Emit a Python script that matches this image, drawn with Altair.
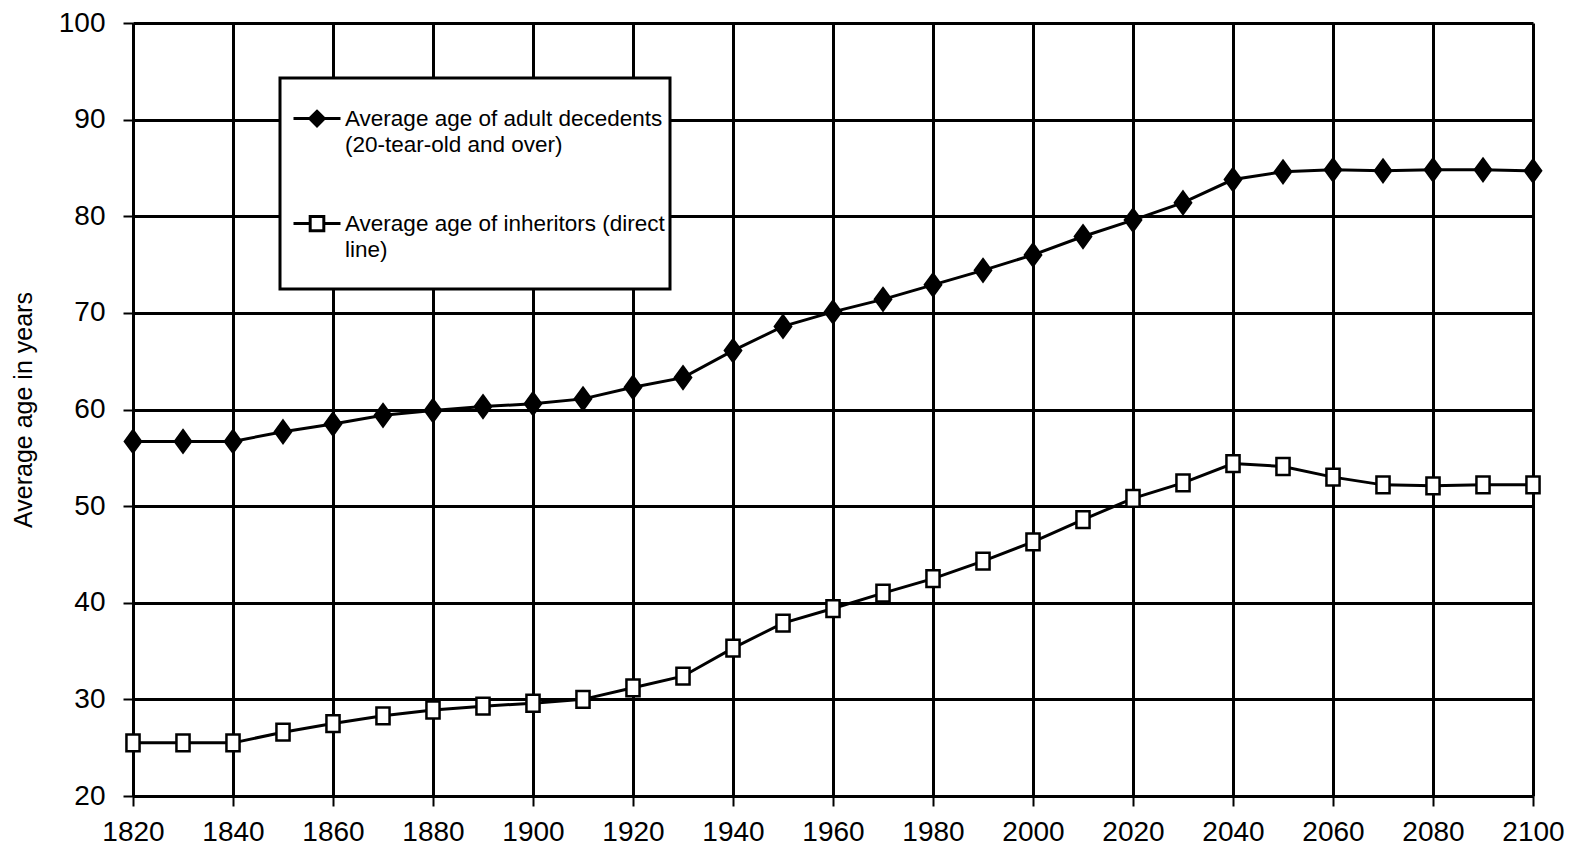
import altair as alt
import pandas as pd

years = list(range(1820, 2101, 10))
decedents = [56.7, 56.7, 56.7, 57.7, 58.5, 59.4, 59.9, 60.3, 60.6, 61.1,
             62.3, 63.3, 66.1, 68.6, 70.1, 71.4, 72.9, 74.4, 76.0, 77.9,
             79.6, 81.4, 83.8, 84.6, 84.8, 84.7, 84.8, 84.8, 84.7]
inheritors = [25.5, 25.5, 25.5, 26.6, 27.5, 28.3, 28.9, 29.3, 29.6, 30.0,
              31.2, 32.4, 35.3, 37.9, 39.4, 41.0, 42.5, 44.3, 46.3, 48.6,
              50.8, 52.4, 54.4, 54.1, 53.0, 52.2, 52.1, 52.2, 52.2]
series_names = ["Average age of adult decedents|(20-tear-old and over)",
                "Average age of inheritors (direct|line)"]
x_ticks = list(range(1820, 2101, 20))
y_ticks = list(range(20, 101, 10))

rows = []
for yr, d, i in zip(years, decedents, inheritors):
    rows.append({"year": yr, "age": d, "series": series_names[0]})
    rows.append({"year": yr, "age": i, "series": series_names[1]})
df = pd.DataFrame(rows)

marker_paths = ["M0,-0.96L0.7,0L0,0.96L-0.7,0Z",
                "M-0.57,-0.73H0.57V0.73H-0.57Z"]
dy = 0.45
legend_paths = [
    f"M-1,{dy}H1M0,{dy-0.31:.2f}L0.31,{dy}L0,{dy+0.31:.2f}L-0.31,{dy}Z",
    f"M-1,{dy}H-0.29M0.29,{dy}H1M-0.29,{dy-0.3:.2f}H0.29V{dy+0.3:.2f}H-0.29Z",
]
fills = ["black", "white"]
strokes = ["black", "black"]

x_enc = alt.X("year:Q", scale=alt.Scale(domain=[1820, 2100], nice=False, zero=False),
              axis=alt.Axis(values=x_ticks, format="d", title=None, labelPadding=12,
                            labelFlush=False))
y_enc = alt.Y("age:Q", scale=alt.Scale(domain=[20, 100], nice=False, zero=False),
              axis=alt.Axis(values=y_ticks, title="Average age in years",
                            titleFontSize=25, titleFontWeight="normal",
                            titleFont="Liberation Sans", titlePadding=22,
                            labelPadding=18, labelFlush=False))

base = alt.Chart(df)

lines = base.mark_line(color="black", strokeWidth=3).encode(
    x=x_enc, y=y_enc, detail="series:N")

points = base.mark_point(filled=True, stroke="black", strokeWidth=2.5,
                         size=529, opacity=1).encode(
    x=x_enc, y=y_enc,
    shape=alt.Shape("series:N", scale=alt.Scale(domain=series_names, range=marker_paths), legend=None),
    fill=alt.Fill("series:N", scale=alt.Scale(domain=series_names, range=fills), legend=None),
)

leg = alt.Legend(title=" ", titleOrient="bottom", titleFontSize=10, titlePadding=12,
                 orient="none", legendX=147, legendY=55,
                 labelExpr="split(datum.label, '|')", labelBaseline="top",
                 labelFontSize=22.5, labelFont="Liberation Sans", labelColor="black",
                 labelLimit=1000, labelOffset=3, symbolSize=2209, symbolOffset=7,
                 symbolStrokeWidth=3, symbolStrokeColor="black", symbolOpacity=1,
                 rowPadding=31, padding=5, fillColor="white", strokeColor="black")

legend_layer = base.mark_point(filled=True, opacity=0, size=2209,
                               strokeWidth=3).encode(
    x=x_enc, y=y_enc,
    shape=alt.Shape("series:N", scale=alt.Scale(domain=series_names, range=legend_paths), legend=leg),
    fill=alt.Fill("series:N", scale=alt.Scale(domain=series_names, range=fills), legend=leg),
    stroke=alt.Stroke("series:N", scale=alt.Scale(domain=series_names, range=strokes), legend=leg),
)

chart = alt.layer(lines, points, legend_layer).resolve_scale(
    shape="independent", fill="independent", stroke="independent"
).properties(
    width=1400, height=773,
    autosize=alt.AutoSizeParams(type="none"),
    padding={"left": 125, "top": 15, "right": 32, "bottom": 52},
    background="white",
).configure(
    style={"guide-label": {"lineHeight": 26}}
).configure_view(stroke=None).configure_axis(
    domainColor="black", domainWidth=3, gridColor="black", gridWidth=3, gridOpacity=1,
    tickColor="black", tickWidth=2, tickSize=10,
    labelFont="Liberation Sans", labelFontSize=28, labelColor="black",
    titleColor="black",
).configure_legend(strokeWidth=3)

chart.save("out.html", embed_options={"renderer": "svg", "actions": False})
